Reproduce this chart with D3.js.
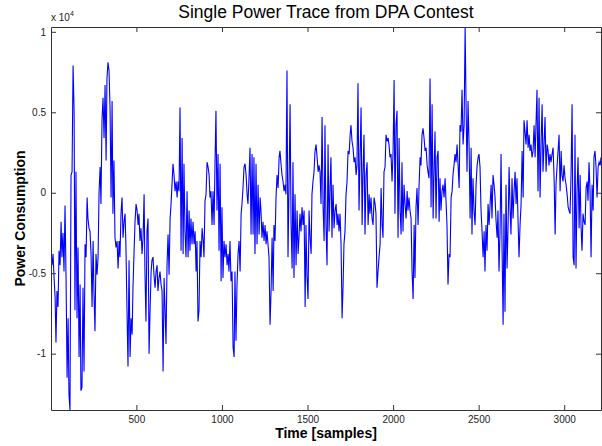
<!DOCTYPE html>
<html>
<head>
<meta charset="utf-8">
<script src="https://cdn.jsdelivr.net/npm/d3@7"></script>
<style>
  body { margin: 0; background: #fff; }
  text { font-family: "Liberation Sans", Arial, Helvetica, sans-serif; }
</style>
</head>
<body>
<script>
// power trace, one value per screen column (units of 1e3)
const firstSample = 7
const sampleStep = 5.844
const trace = [
  -4.5,-3.8,-5.3,-6.5,-9.3,-6.1,-7.1,-3.6,-4.5,-1.8,
  -4.0,-2.5,-4.9,-0.8,-5.3,-11.5,-7.8,-12.5,-13.5,1.1,
  1.3,7.9,5.1,-7.3,1.3,-7.8,-3.4,-10.2,-5.7,-12.3,
  -12.1,-5.9,-11.1,-3.2,-4.0,-0.3,-1.6,-2.2,-2.4,-3.8,
  -7.1,-3.0,-6.1,-8.6,-3.8,-5.1,-4.0,0.1,1.6,-0.7,
  4.5,5.9,3.4,6.7,2.0,7.1,8.1,7.6,5.3,-0.3,
  5.7,-1.3,2.0,-2.8,-3.4,-3.0,-4.7,-3.0,-4.0,-1.3,
  -0.3,-2.8,-1.8,-1.3,-3.4,-7.3,-10.8,-4.2,-10.2,-7.8,
  -8.8,-5.9,-3.8,-1.8,-0.7,-1.1,-2.0,-1.3,-3.0,-2.2,
  -3.8,-2.8,-0.1,-4.9,-8.0,-2.4,-1.6,-10.0,-7.3,-4.9,
  -4.2,-4.0,-5.1,-5.9,-4.9,-4.5,-6.1,-5.3,-4.9,-5.7,
  -6.1,-11.1,-5.3,-7.1,-9.4,-4.5,-2.6,-5.1,-1.6,-0.8,
  0.5,1.8,1.1,0.1,0.7,-0.3,0.7,0.1,5.3,-3.6,
  3.4,-3.8,1.8,-2.4,-4.0,0.1,-4.0,-1.1,-3.6,-1.6,
  -3.2,-1.8,-3.2,-2.4,-4.9,-3.0,-8.0,-7.3,-3.0,-4.0,
  -2.2,-2.8,-4.0,-0.5,-0.1,1.9,1.6,1.1,-0.3,0.1,
  -2.0,0.1,-2.0,2.2,5.1,-1.1,2.4,-3.6,1.8,-5.5,
  -0.9,-5.3,-3.0,-4.0,-3.2,-4.5,-3.8,-4.9,-3.0,-5.5,
  -4.9,-9.6,-10.2,-4.9,-9.2,-5.7,-3.8,-3.0,-4.9,-1.3,
  -0.7,0.3,1.6,1.8,1.1,-0.1,-0.7,0.9,2.8,-2.6,
  2.4,-2.6,2.2,-3.8,1.8,-3.2,0.5,-2.6,-0.3,-1.1,
  -2.8,-1.8,-3.0,-2.0,-3.2,-2.4,-3.2,-4.0,-8.2,-6.1,
  -2.8,-6.1,-2.0,-3.0,-0.3,1.1,0.3,2.2,2.6,1.8,
  1.1,0.7,0.1,0.5,-0.1,7.6,-4.0,0.5,5.5,-2.0,
  -4.7,1.9,-5.3,-0.1,-4.5,-1.1,-3.8,-2.8,-1.3,-2.4,
  -0.9,-2.0,-1.1,-7.1,-2.0,-5.2,-6.6,-1.1,-2.8,-3.8,
  -0.1,0.7,1.3,2.6,3.0,2.2,1.3,1.7,1.3,-0.7,
  4.7,-0.9,-3.0,4.2,-2.0,-4.5,3.0,-2.4,0.5,2.2,
  -2.8,0.5,-2.2,-1.1,-0.7,-2.0,-1.3,-2.4,-1.3,-3.2,
  -7.8,-5.7,-3.2,-2.4,-0.1,0.7,2.6,2.4,3.6,4.2,
  3.2,2.8,1.9,2.2,1.1,1.7,6.8,-1.1,2.2,5.3,
  -2.0,1.1,3.6,-2.6,1.1,1.9,-2.0,-0.1,-1.3,-0.3,
  -1.6,-2.0,-0.3,-0.7,-1.3,-5.9,-4.9,-4.0,-3.2,0.3,
  -2.0,-2.8,1.3,1.6,3.6,3.2,3.4,3.0,2.2,2.4,
  0.7,2.6,7.0,-1.3,4.2,5.1,-2.8,3.4,-1.1,-2.6,
  1.9,-2.4,0.5,-0.7,-1.6,0.1,-1.1,-0.3,-1.1,-1.6,
  -4.9,-6.6,-2.0,-5.3,-0.9,0.3,-2.0,0.5,2.2,1.7,
  3.6,4.0,3.4,2.6,2.8,1.7,1.3,0.9,7.1,-0.9,
  5.5,-1.6,1.1,3.8,-1.6,2.2,2.6,-1.8,0.9,-1.1,
  0.1,0.5,-0.3,0.9,-0.7,-2.0,-5.7,-3.8,-4.0,-0.3,
  0.1,1.1,1.7,2.4,1.9,3.0,1.7,0.3,4.2,3.8,
  6.4,3.0,4.2,10.3,5.9,1.3,5.7,3.0,-1.6,2.8,
  -2.6,0.9,-1.1,-2.0,0.5,1.7,2.2,2.4,1.6,-1.1,
  -2.4,-4.0,-2.4,-4.9,-2.0,-3.6,-0.7,-2.0,-0.7,0.5,
  -1.6,1.1,0.5,-0.3,-1.8,-2.8,-1.1,-4.9,-2.4,2.4,
  -3.6,-8.2,-1.3,-7.4,0.5,-4.7,-2.0,1.6,-1.1,-2.6,
  0.9,-1.6,0.1,1.3,-0.7,0.9,-1.6,-4.0,-2.0,-0.7,
  2.6,-0.3,4.5,3.8,3.0,4.5,2.8,3.6,2.6,3.0,
  2.2,2.6,4.2,2.2,4.2,6.4,0.1,5.9,-0.3,3.2,
  5.5,1.3,3.0,4.7,1.3,3.0,2.6,1.7,2.4,1.9,
  2.4,2.8,0.9,-2.6,0.5,1.6,2.6,3.6,0.1,2.6,
  1.1,0.7,1.7,0.9,0.5,-0.1,-0.9,-1.1,-1.3,1.1,
  5.5,-4.0,-4.5,3.6,-4.7,0.1,2.2,-2.2,1.1,-2.0,
  -3.6,-1.3,-1.8,-2.0,0.3,0.7,-0.5,1.9,0.1,-4.0,
  0.5,-1.1,2.2,2.6,1.6,-0.3,1.6,1.9,1.7,2.2
]
const xTicks = [500, 1000, 1500, 2000, 2500, 3000]
const yTicks = [-10000, -5000, 0, 5000, 10000]
const xRange = [1, 3215]

const data = trace.map((v, i) => ({t: Math.round(firstSample + i*sampleStep), v: v*1000}))

const W = 602, H = 446
const mLeft = 51, mTop = 27, pw = 550, ph = 383

const svg = d3.select("body").append("svg")
    .attr("width", W)
    .attr("height", H)

svg.append("rect").attr("width", W).attr("height", H).attr("fill", "#fff")

const x = d3.scaleLinear().domain(xRange).range([0, pw])
const y = d3.scaleLinear().domain(d3.extent(data, d => d.v)).range([ph, 0])

const g = svg.append("g").attr("transform", `translate(${mLeft},${mTop})`)

// trace first, box and ticks on top of it
g.append("path")
    .datum(data)
    .attr("fill", "none")
    .attr("stroke", "#0000ff")
    .attr("stroke-width", 1.1)
    .attr("stroke-linejoin", "miter")
    .attr("d", d3.line().x(d => x(d.t)).y(d => y(d.v)))

const fmt = d => String(d/10000)

g.append("g")
    .attr("transform", `translate(0,${ph})`)
    .call(d3.axisBottom(x).tickValues(xTicks).tickFormat(d3.format("d"))
      .tickSizeInner(-5).tickSizeOuter(0).tickPadding(6))
g.append("g")
    .call(d3.axisTop(x).tickValues(xTicks).tickSizeInner(-5).tickSizeOuter(0).tickFormat(""))
g.append("g")
    .call(d3.axisLeft(y).tickValues(yTicks).tickFormat(fmt).tickSizeInner(-5).tickSizeOuter(0).tickPadding(5))
g.append("g")
    .attr("transform", `translate(${pw},0)`)
    .call(d3.axisRight(y).tickValues(yTicks).tickSizeInner(-5).tickSizeOuter(0).tickFormat(""))

g.selectAll(".domain, .tick line").attr("stroke", "#333")
g.selectAll(".tick text").attr("font-size", 10).attr("fill", "#222")
    .style("font-family", '"Liberation Sans", Arial, sans-serif')

// exponent label
const ex = svg.append("text")
    .attr("x", mLeft)
    .attr("y", 21)
    .attr("font-size", 10)
    .attr("fill", "#222")
ex.append("tspan").text("x 10")
ex.append("tspan").attr("dy", -5).attr("font-size", 7).text("4")

svg.append("text")
    .attr("x", mLeft + pw/2)
    .attr("y", 18)
    .attr("text-anchor", "middle")
    .attr("font-size", 17.5)
    .text("Single Power Trace from DPA Contest")

svg.append("text")
    .attr("x", mLeft + pw/2)
    .attr("y", 438)
    .attr("text-anchor", "middle")
    .attr("font-size", 14)
    .attr("font-weight", "bold")
    .text("Time [samples]")

svg.append("text")
    .attr("transform", `translate(25,${mTop + ph/2}) rotate(-90)`)
    .attr("text-anchor", "middle")
    .attr("font-size", 14)
    .attr("font-weight", "bold")
    .text("Power Consumption")
</script>
</body>
</html>
